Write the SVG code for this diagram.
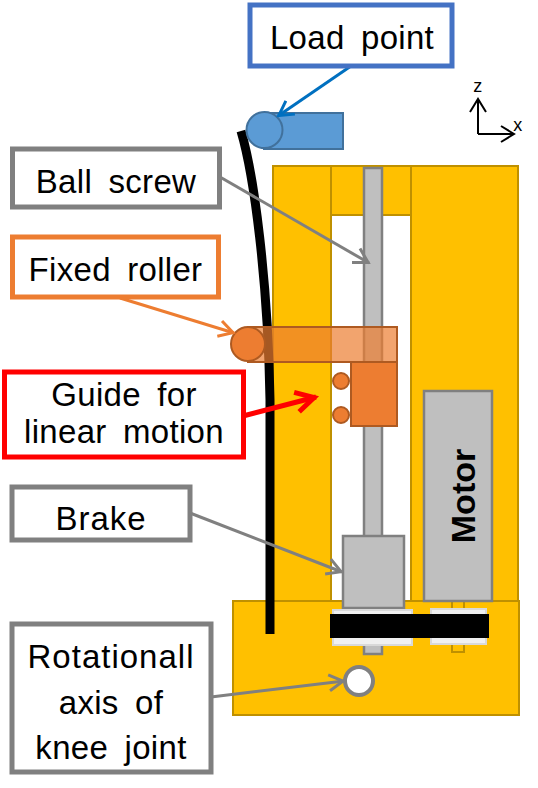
<svg xmlns="http://www.w3.org/2000/svg" width="538" height="788" viewBox="0 0 538 788">
<style>
text{font-family:"Liberation Sans",Arial,sans-serif;font-size:33px;word-spacing:7px;letter-spacing:.3px;fill:#000;text-anchor:middle}
.frame{fill:#ffc000;stroke:#bf9000;stroke-width:2}
.grey{fill:#bfbfbf;stroke:#808080;stroke-width:2.5}
.box{fill:#fff;stroke-width:5}
.org{fill:#ed7d31;stroke:#ae5a21;stroke-width:2}
.blu{fill:#5b9bd5;stroke:#41719c;stroke-width:2}
.wht{fill:#f0f0f0;stroke:#d9d9d9;stroke-width:2}
.c{fill:none;stroke-width:3}
.ax{font-size:18px}
.wide{letter-spacing:1px}
</style>
<defs>
<marker id="ag" markerUnits="userSpaceOnUse" markerWidth="20" markerHeight="20" refX="16" refY="10" orient="auto"><path d="M1 2L15 10L1 18" fill="none" stroke="#808080" stroke-width="3"/></marker>
<marker id="ab" markerUnits="userSpaceOnUse" markerWidth="20" markerHeight="20" refX="16" refY="10" orient="auto"><path d="M1 2L15 10L1 18" fill="none" stroke="#0070c0" stroke-width="3"/></marker>
<marker id="ao" markerUnits="userSpaceOnUse" markerWidth="20" markerHeight="20" refX="16" refY="10" orient="auto"><path d="M1 2L15 10L1 18" fill="none" stroke="#ed7d31" stroke-width="3"/></marker>
<marker id="ar" markerUnits="userSpaceOnUse" markerWidth="26" markerHeight="26" refX="22" refY="13" orient="auto"><path d="M2 3L20 13L2 23" fill="none" stroke="#f00" stroke-width="5"/></marker>
</defs>
<g id="frame">
<rect class="frame" x="273" y="166" width="58" height="436"/>
<rect class="frame" x="411" y="166" width="107" height="436"/>
<rect class="frame" x="331" y="166" width="80" height="49"/>
</g>
<g id="ball-screw"><rect class="grey" x="364" y="168" width="18" height="487"/></g>
<g id="base"><rect class="frame" x="233" y="601" width="286" height="114"/></g>
<g id="screw-end"><rect class="grey" x="364" y="640" width="18" height="14"/></g>
<g id="motor-shaft"><rect x="452" y="601" width="12" height="51" fill="none" stroke="#bf9000" stroke-width="2"/></g>
<g id="brake"><rect class="grey" x="343" y="536" width="61" height="72"/></g>
<g id="motor">
<rect class="grey" x="424" y="391" width="68" height="210"/>
<text transform="translate(475 496) rotate(-90)" font-weight="700" style="font-size:34px;word-spacing:0;letter-spacing:0">Motor</text>
</g>
<g id="pulleys">
<rect class="wht" x="333" y="610" width="79" height="35"/>
<rect class="wht" x="431" y="609" width="55" height="35"/>
<rect x="330" y="614" width="159" height="24" fill="#000"/>
</g>
<g id="knee-axis"><circle cx="359" cy="681" r="14" fill="#fff" stroke="#808080" stroke-width="4"/></g>
<g id="shin"><path d="M241 131C254 175 268 280 270 400V634" fill="none" stroke="#000" stroke-width="9"/></g>
<g id="load-block">
<rect class="blu" x="264" y="113" width="79" height="36"/>
<circle class="blu" cx="264.500" cy="130" r="18"/>
</g>
<g id="guide">
<circle class="org" cx="341" cy="381" r="8"/>
<circle class="org" cx="341" cy="415" r="8"/>
<rect class="org" x="351" y="362" width="46" height="64"/>
</g>
<g id="arm">
<rect x="248" y="327" width="149" height="35" fill="#ed7d31" fill-opacity=".7" stroke="#ae5a21" stroke-width="2"/>
<circle class="org" cx="248" cy="344" r="17"/>
</g>
<g id="connectors">
<path class="c" d="M351 66L278 116" stroke="#0070c0" marker-end="url(#ab)"/>
<path class="c" d="M220 177L369 263" stroke="#808080" marker-end="url(#ag)"/>
<path class="c" d="M190 513L342 572" stroke="#808080" marker-end="url(#ag)"/>
<path class="c" d="M211 697L344 681" stroke="#808080" marker-end="url(#ag)"/>
<path d="M243 416L316 397" fill="none" stroke="#f00" stroke-width="5" marker-end="url(#ar)"/>
<path class="c" d="M120 298L234 333" stroke="#ed7d31" marker-end="url(#ao)"/>
<path d="M478 134V99M470 112L478 99L486 112M478 134H514M501 126L514 134L501 142" fill="none" stroke="#000" stroke-width="2"/>
</g>
<g id="axes">
<text class="ax" x="478" y="92">z</text>
<text class="ax" x="518" y="131">x</text>
</g>
<g id="load-point"><rect class="box" x="250" y="5" width="202" height="61" stroke="#4472c4"/><text x="352" y="49">Load point</text></g>
<g id="ball-screw-label"><rect class="box" x="12.500" y="149" width="207" height="58" stroke="#808080"/><text x="116" y="193">Ball screw</text></g>
<g id="fixed-roller"><rect class="box" x="12.500" y="237" width="206" height="60" stroke="#ed7d31"/><text x="115.500" y="281">Fixed roller</text></g>
<g id="guide-label"><rect class="box" x="4.500" y="372" width="239" height="85" stroke="#f00"/><text x="124" y="406">Guide for</text><text x="124" y="443">linear motion</text></g>
<g id="brake-label"><rect class="box" x="12" y="487" width="178" height="53" stroke="#808080"/><text class="wide" x="101" y="530">Brake</text></g>
<g id="axis-label"><rect class="box" x="12" y="624" width="199" height="148" stroke="#808080"/><text class="wide" x="111" y="668">Rotationall</text><text x="111" y="714">axis of</text><text x="111" y="759">knee joint</text></g>
</svg>
